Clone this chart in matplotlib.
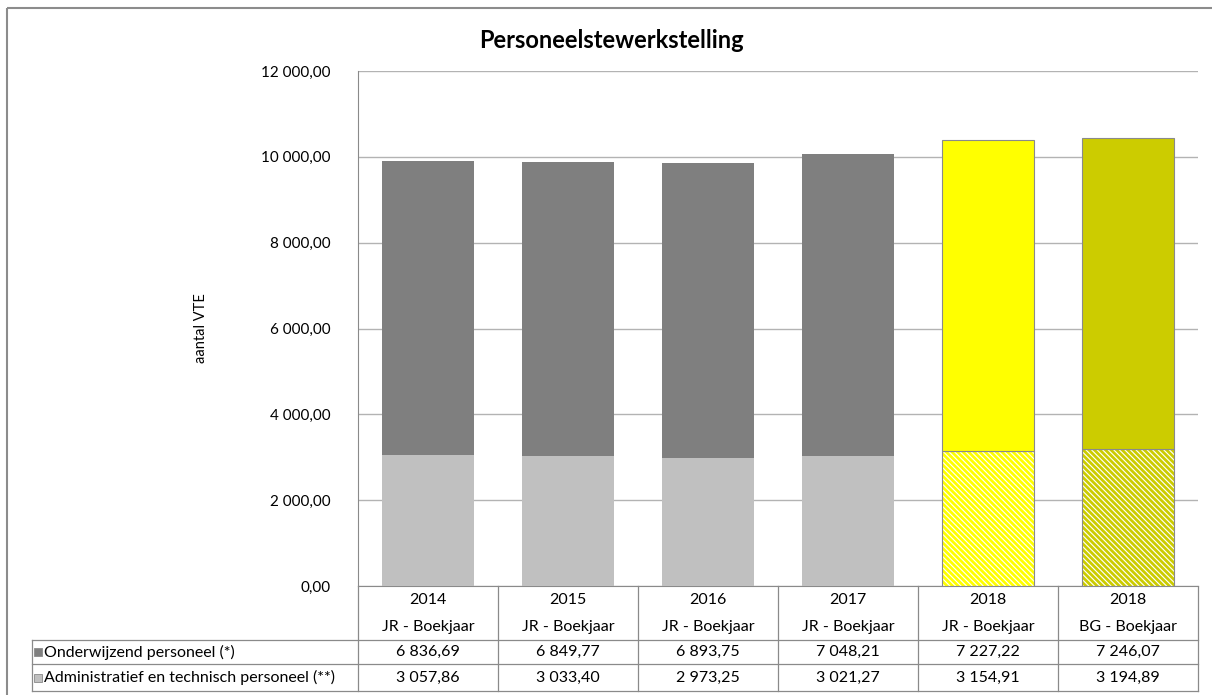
import numpy as np
import matplotlib
matplotlib.use("Agg")
import matplotlib.pyplot as plt

plt.rcParams['font.family'] = ['Lato', 'DejaVu Sans']
plt.rcParams['hatch.linewidth'] = 2.0

years = ["2014", "2015", "2016", "2017", "2018", "2018"]
kinds = ["JR - Boekjaar", "JR - Boekjaar", "JR - Boekjaar", "JR - Boekjaar",
         "JR - Boekjaar", "BG - Boekjaar"]
onderwijzend = [6836.69, 6849.77, 6893.75, 7048.21, 7227.22, 7246.07]
administratief = [3057.86, 3033.40, 2973.25, 3021.27, 3154.91, 3194.89]
series_names = ["Onderwijzend personeel (*)",
                "Administratief en technisch personeel (**)"]
yticks = [0, 2000, 4000, 6000, 8000, 10000, 12000]

top_colors = ["#7f7f7f"] * 4 + ["#ffff00", "#cccc00"]
bottom_colors = ["#c0c0c0"] * 4 + ["#ffff00", "#cccc00"]
hatched = [False] * 4 + [True, True]


def fmt(v):
    return f"{v:,.2f}".replace(",", " ").replace(".", ",")


W, H = 1212, 695
fig = plt.figure(figsize=(W / 100, H / 100), dpi=100)

# plot area in pixels
x0, x1, y_top, y_bot = 358, 1198, 71, 586
ax = fig.add_axes([x0 / W, 1 - y_bot / H, (x1 - x0) / W, (y_bot - y_top) / H])

x = np.arange(len(years))
bw = 0.66
for i in x:
    if hatched[i]:
        ax.bar(i, administratief[i], bw, color="white", edgecolor=bottom_colors[i],
               hatch="\\" * 6, linewidth=0, zorder=3)
        ax.bar(i, administratief[i], bw, fill=False, edgecolor="#8a8a8a",
               linewidth=0.8, zorder=4)
        ax.bar(i, onderwijzend[i], bw, bottom=administratief[i], color=top_colors[i],
               edgecolor="#8a8a8a", linewidth=0.8, zorder=4)
    else:
        ax.bar(i, administratief[i], bw, color=bottom_colors[i], linewidth=0, zorder=3)
        ax.bar(i, onderwijzend[i], bw, bottom=administratief[i], color=top_colors[i],
               linewidth=0, zorder=3)

ax.set_xlim(-0.5, len(years) - 0.5)
ax.set_ylim(0, 12000)
ax.set_yticks(yticks)
ax.set_yticklabels([fmt(t) for t in yticks], fontsize=11)
ax.set_xticks([])
ax.tick_params(axis="y", length=0, pad=20)
ax.grid(axis="y", color="#b3b3b3", linewidth=1, zorder=0)
ax.set_axisbelow(True)
for s in ["top", "right"]:
    ax.spines[s].set_visible(False)
ax.spines["left"].set_color("#8a8a8a")
ax.spines["bottom"].set_color("#8a8a8a")
ax.set_ylabel("aantal VTE", fontsize=10.5, labelpad=38)

fig.text(611 / W, 1 - 40 / H, "Personeelstewerkstelling", ha="center", va="center",
         fontsize=17, fontweight="bold")

# overlay in pixel coordinates for the data table and outer frame
ov = fig.add_axes([0, 0, 1, 1], zorder=5)
ov.set_xlim(0, W)
ov.set_ylim(H, 0)
ov.axis("off")

lc = "#8a8a8a"
edges = np.linspace(x0, x1, len(years) + 1)
centers = (edges[:-1] + edges[1:]) / 2
r_head, r1, r2, r3 = 586, 640, 664, 691
tab_left = 32

# chart frame: only left and top edges fall inside the image
ov.add_patch(plt.Rectangle((7, 8), W + 50, H + 50, fill=False, edgecolor="#8c8c8c",
                           lw=1.5, clip_on=True))

for e in edges:
    ov.plot([e, e], [r_head, r3], color=lc, lw=0.9)
for yy in [r1, r2, r3]:
    ov.plot([tab_left, x1], [yy, yy], color=lc, lw=0.9)
ov.plot([tab_left, tab_left], [r1, r3], color=lc, lw=0.9)

fs = 11.5
for c, yr, k in zip(centers, years, kinds):
    ov.text(c, 600, yr, ha="center", va="center", fontsize=fs)
    ov.text(c, 627, k, ha="center", va="center", fontsize=fs)

for row, (vals, name, col) in enumerate(zip([onderwijzend, administratief], series_names,
                                            ["#7f7f7f", "#c0c0c0"])):
    ymid = (r1 + r2) / 2 if row == 0 else (r2 + r3) / 2
    ov.add_patch(plt.Rectangle((34, ymid - 4), 8, 8, facecolor=col, edgecolor="#8a8a8a",
                               lw=0.6))
    ov.text(44, ymid, name, ha="left", va="center", fontsize=fs)
    for c, v in zip(centers, vals):
        ov.text(c, ymid, fmt(v), ha="center", va="center", fontsize=fs)

fig.savefig("out.png", dpi=100)
